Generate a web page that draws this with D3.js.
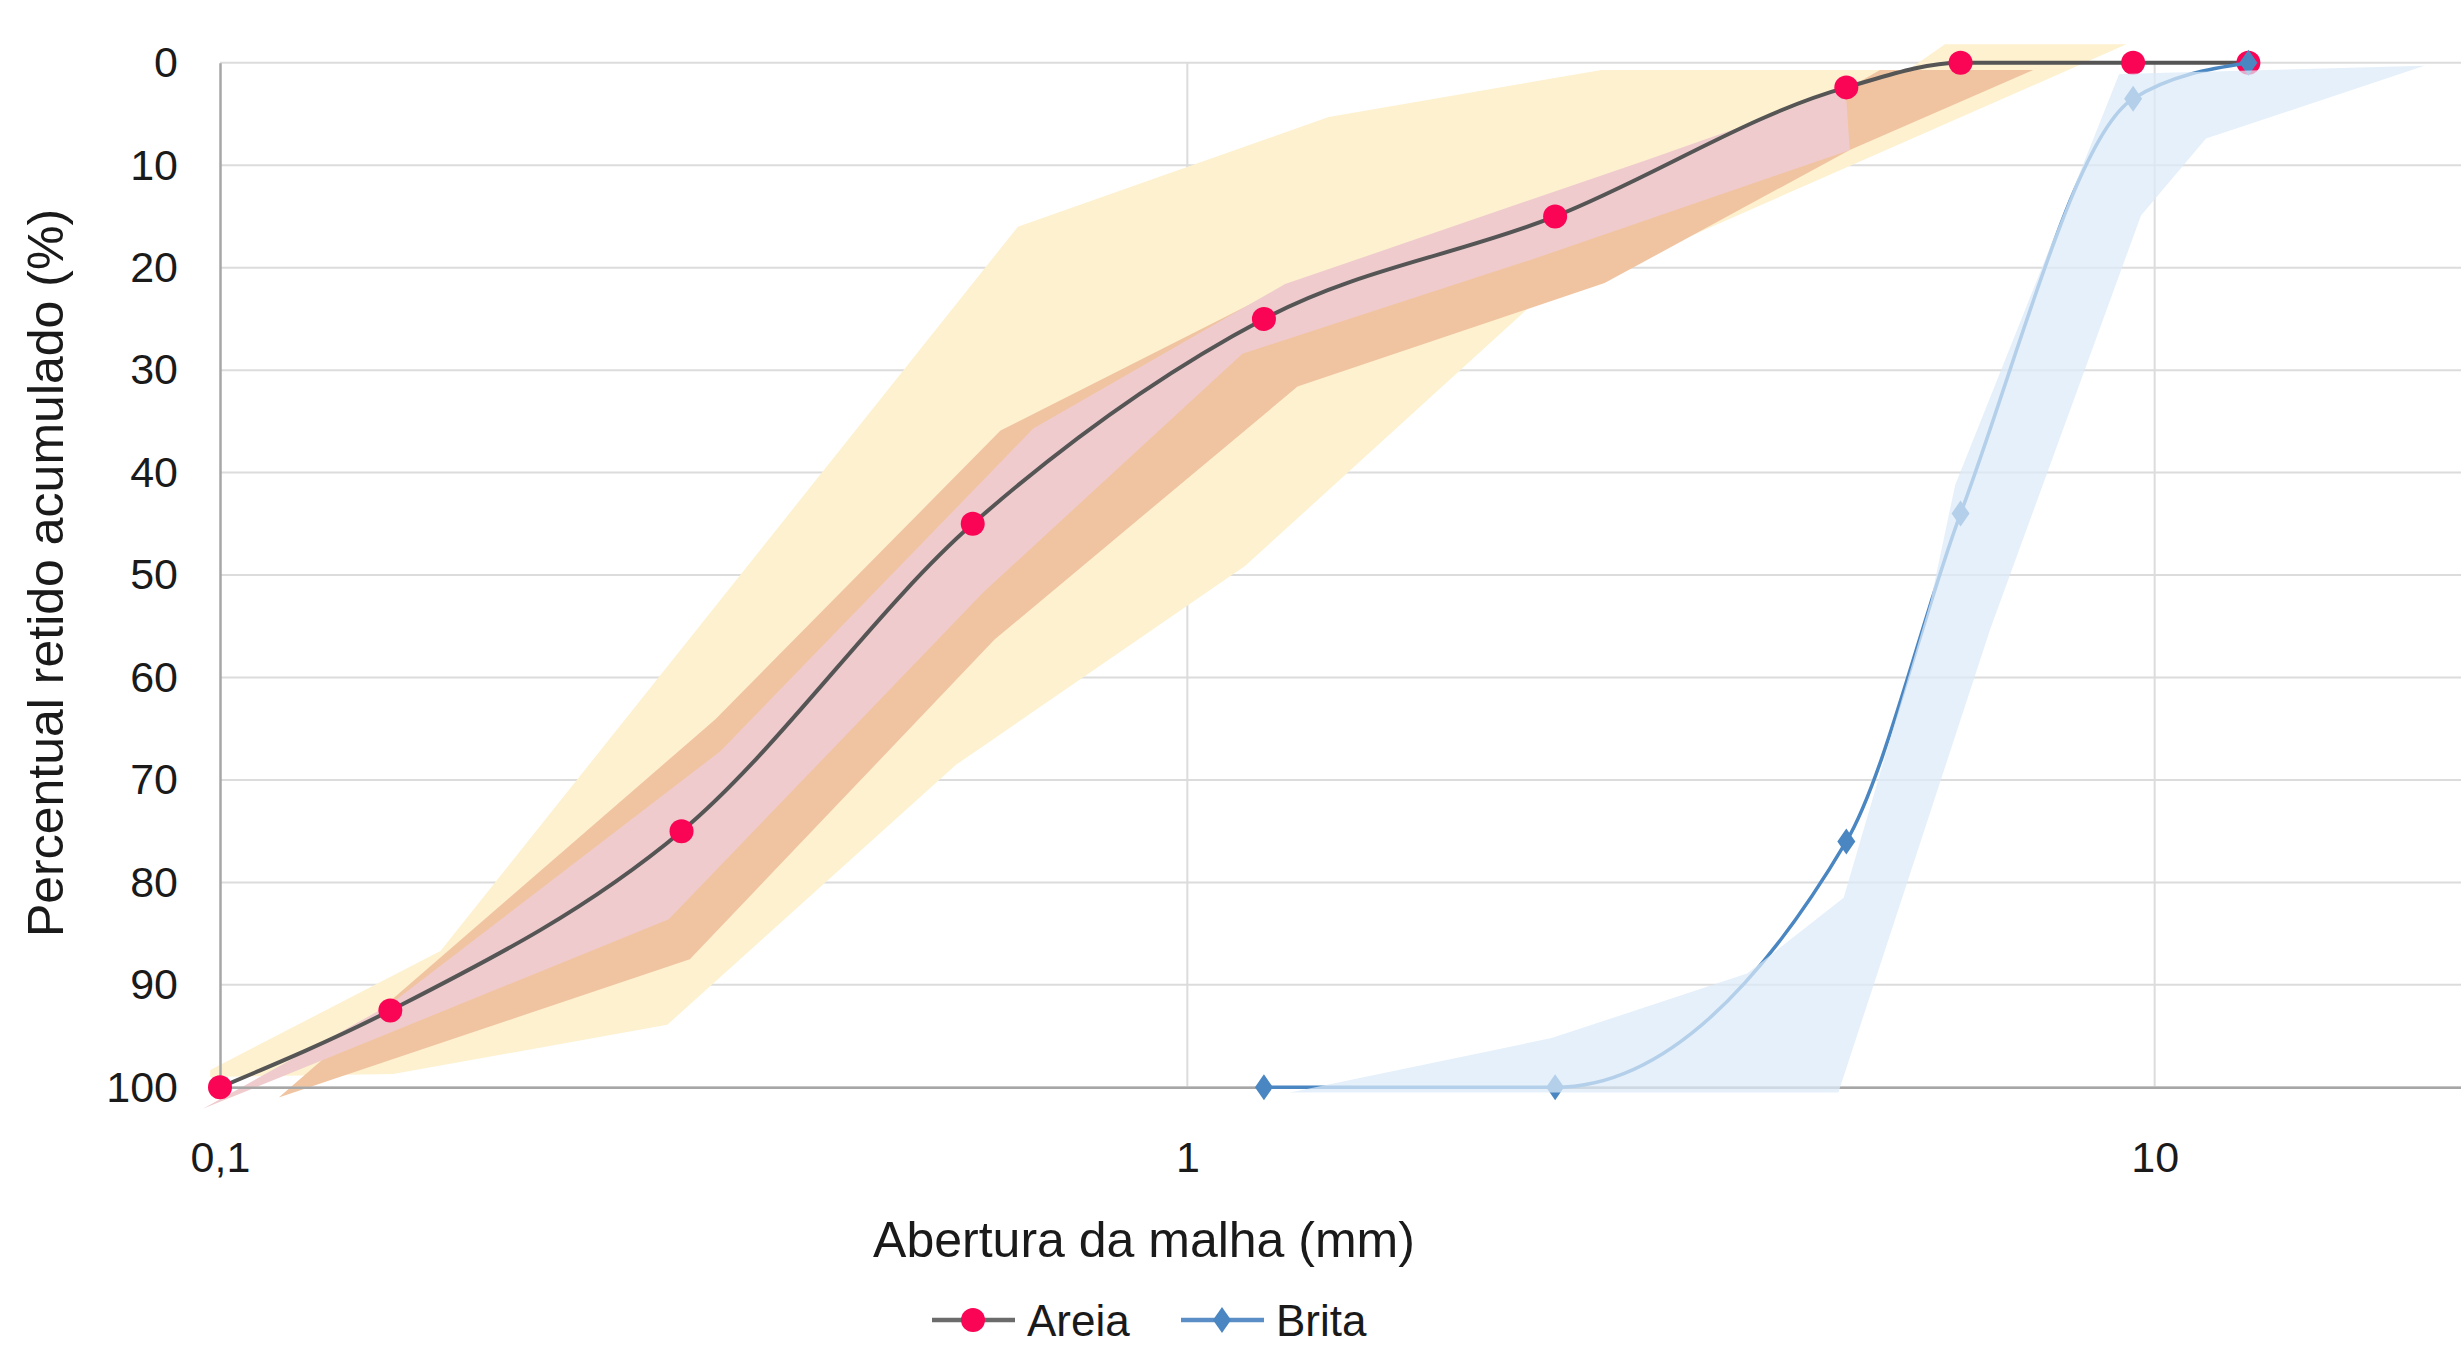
<!DOCTYPE html>
<html>
<head>
<meta charset="utf-8">
<script src="https://cdn.jsdelivr.net/npm/d3@7"></script>
<style>
  body { margin: 0; background: #fff; }
  svg { display: block; font-family: "Liberation Sans", Arial, sans-serif; }
</style>
</head>
<body>
<div id="chart"></div>
<script>
// curva granulométrica - areia e brita com as zonas limite

// ensaio (abertura em mm, % retido acumulado)
const areiaAbertura = [0.1, 0.15, 0.3, 0.6, 1.2, 2.4, 4.8, 6.3, 9.5, 12.5];
const areiaRetido   = [100, 92.5, 75, 45, 25, 15, 2.4, 0, 0, 0];
const britaAbertura = [1.2, 2.4, 4.8, 6.3, 9.5, 12.5];
const britaRetido   = [100, 100, 76, 44, 3.5, 0];

// zonas (contorno [abertura, retido])
const zonaAmarela = [[0.0977, 98.3], [0.169, 86.7], [0.668, 16.0], [1.40, 5.3], [2.68, 0.7], [5.56, 0.7],
  [6.07, -1.8], [9.35, -1.8], [2.26, 23.8], [1.148, 49.1], [0.577, 68.5], [0.290, 93.9], [0.151, 98.7], [0.0977, 99.0]];
const zonaLaranja = [[0.115, 101.0], [0.325, 64.1], [0.641, 35.9], [1.271, 21.7], [2.98, 10.0], [4.79, 2.65],
  [5.20, 0.7], [7.49, 0.7], [4.84, 8.5], [2.70, 21.5], [1.30, 31.6], [0.632, 56.3], [0.306, 87.5]];
const zonaRosa = [[0.096, 102.1], [0.150, 91.9], [0.329, 67.2], [0.693, 35.7], [1.262, 21.6], [2.98, 9.5],
  [4.10, 4.9], [4.79, 2.4], [4.84, 8.5], [2.27, 19.2], [1.14, 28.4], [0.615, 51.7], [0.291, 83.6]];
const zonaBrita = [[1.277, 100.5], [2.38, 95.2], [3.79, 88.9], [4.77, 81.5], [5.87, 52.4], [6.22, 41.2],
  [9.19, 1.1], [19.0, 0.3], [11.30, 7.4], [9.68, 14.9], [6.76, 55.3], [4.71, 100.5]];

const yTicks = [0, 10, 20, 30, 40, 50, 60, 70, 80, 90, 100];
const xTicks = [0.1, 1, 10];
const legenda = ["Areia", "Brita"];

const width = 2461;
const height = 1352;

const svg = d3.select("#chart")
  .append("svg")
  .attr("width", width)
  .attr("height", height);

// log axis, plot area runs off the right edge like the original crop
const x = d3.scaleLog().domain([0.1, 100]).range([220, 3122]);
const y = d3.scaleLinear().domain([0, 100]).range([62.8, 1087.3]);

// grid
svg.append("g")
  .selectAll("line")
  .data(yTicks)
  .enter()
  .append("line")
  .attr("x1", x(0.1))
  .attr("x2", width)
  .attr("y1", d => y(d))
  .attr("y2", d => y(d))
  .attr("stroke", "#dcdcdc")
  .attr("stroke-width", 2);

svg.append("g")
  .selectAll("line")
  .data(xTicks.slice(1))
  .enter()
  .append("line")
  .attr("x1", d => x(d))
  .attr("x2", d => x(d))
  .attr("y1", y(0))
  .attr("y2", y(100))
  .attr("stroke", "#dcdcdc")
  .attr("stroke-width", 2);

const poly = d3.line().x(d => x(d[0])).y(d => y(d[1]));

// zonas da areia
svg.append("path").attr("d", poly(zonaAmarela) + "Z").attr("fill", "#fdf1cf");
svg.append("path").attr("d", poly(zonaLaranja) + "Z").attr("fill", "#f1c4a1");
svg.append("path").attr("d", poly(zonaRosa) + "Z").attr("fill", "#efcbcd");

// axes
const yAxis = svg.append("g")
  .attr("transform", `translate(${x(0.1)},0)`)
  .call(d3.axisLeft(y).tickValues(yTicks).tickSize(0).tickPadding(42));

const xAxis = svg.append("g")
  .attr("transform", `translate(0,${y(100)})`)
  .call(d3.axisBottom(x).tickValues(xTicks).tickSize(0).tickPadding(54)
    .tickFormat(d => String(d).replace(".", ",")));

[yAxis, xAxis].forEach(g => {
  g.select(".domain").attr("stroke", "#a6a6a6").attr("stroke-width", 2.5);
  g.selectAll("text")
    .attr("font-size", 43)
    .attr("fill", "#1a1a1a")
    .attr("font-family", "Liberation Sans, Arial, sans-serif");
});

const curve = d3.line()
  .x(d => x(d[0]))
  .y(d => y(d[1]))
  .curve(d3.curveMonotoneX);

const areia = areiaAbertura.map((a, i) => [a, areiaRetido[i]]);
const brita = britaAbertura.map((a, i) => [a, britaRetido[i]]);

const diamond = "M0,-13L9,0L0,13L-9,0Z";

// areia
svg.append("path")
  .attr("d", curve(areia))
  .attr("fill", "none")
  .attr("stroke", "#555")
  .attr("stroke-width", 4);

svg.append("g")
  .selectAll("circle")
  .data(areia)
  .enter()
  .append("circle")
  .attr("cx", d => x(d[0]))
  .attr("cy", d => y(d[1]))
  .attr("r", 12)
  .attr("fill", "#fa0455");

// brita
svg.append("path")
  .attr("d", curve(brita))
  .attr("fill", "none")
  .attr("stroke", "#4a86c1")
  .attr("stroke-width", 3.5);

svg.append("g")
  .selectAll("path")
  .data(brita)
  .enter()
  .append("path")
  .attr("d", diamond)
  .attr("transform", d => `translate(${x(d[0])},${y(d[1])})`)
  .attr("fill", "#4a86c1");

// zona da brita por cima da curva (deixa os marcadores claros)
svg.append("path")
  .attr("d", poly(zonaBrita) + "Z")
  .attr("fill", "rgb(219,234,248)")
  .attr("fill-opacity", 0.73);

// axis titles
svg.append("text")
  .attr("x", 1144)
  .attr("y", 1257)
  .attr("text-anchor", "middle")
  .attr("font-size", 50)
  .attr("fill", "#1a1a1a")
  .text("Abertura da malha (mm)");

svg.append("text")
  .attr("transform", "translate(63,573) rotate(-90)")
  .attr("text-anchor", "middle")
  .attr("font-size", 50)
  .attr("fill", "#1a1a1a")
  .text("Percentual retido acumulado (%)");

// legend
const leg = svg.append("g").attr("transform", "translate(932,1320)");

const itemX = [0, 249];
const itemColor = ["#6b6b6b", "#5b8ec6"];

legenda.forEach((nome, i) => {
  const g = leg.append("g").attr("transform", `translate(${itemX[i]},0)`);
  g.append("line")
    .attr("x1", 0).attr("x2", 83)
    .attr("y1", 0).attr("y2", 0)
    .attr("stroke", itemColor[i])
    .attr("stroke-width", 4.5);
  if (i === 0) {
    g.append("circle").attr("cx", 41).attr("r", 12).attr("fill", "#fa0455");
  } else {
    g.append("path").attr("d", diamond).attr("transform", "translate(41,0)").attr("fill", "#4a86c1");
  }
  g.append("text")
    .attr("x", 95)
    .attr("y", 16)
    .attr("font-size", 44)
    .attr("fill", "#1a1a1a")
    .text(nome);
});
</script>
</body>
</html>
